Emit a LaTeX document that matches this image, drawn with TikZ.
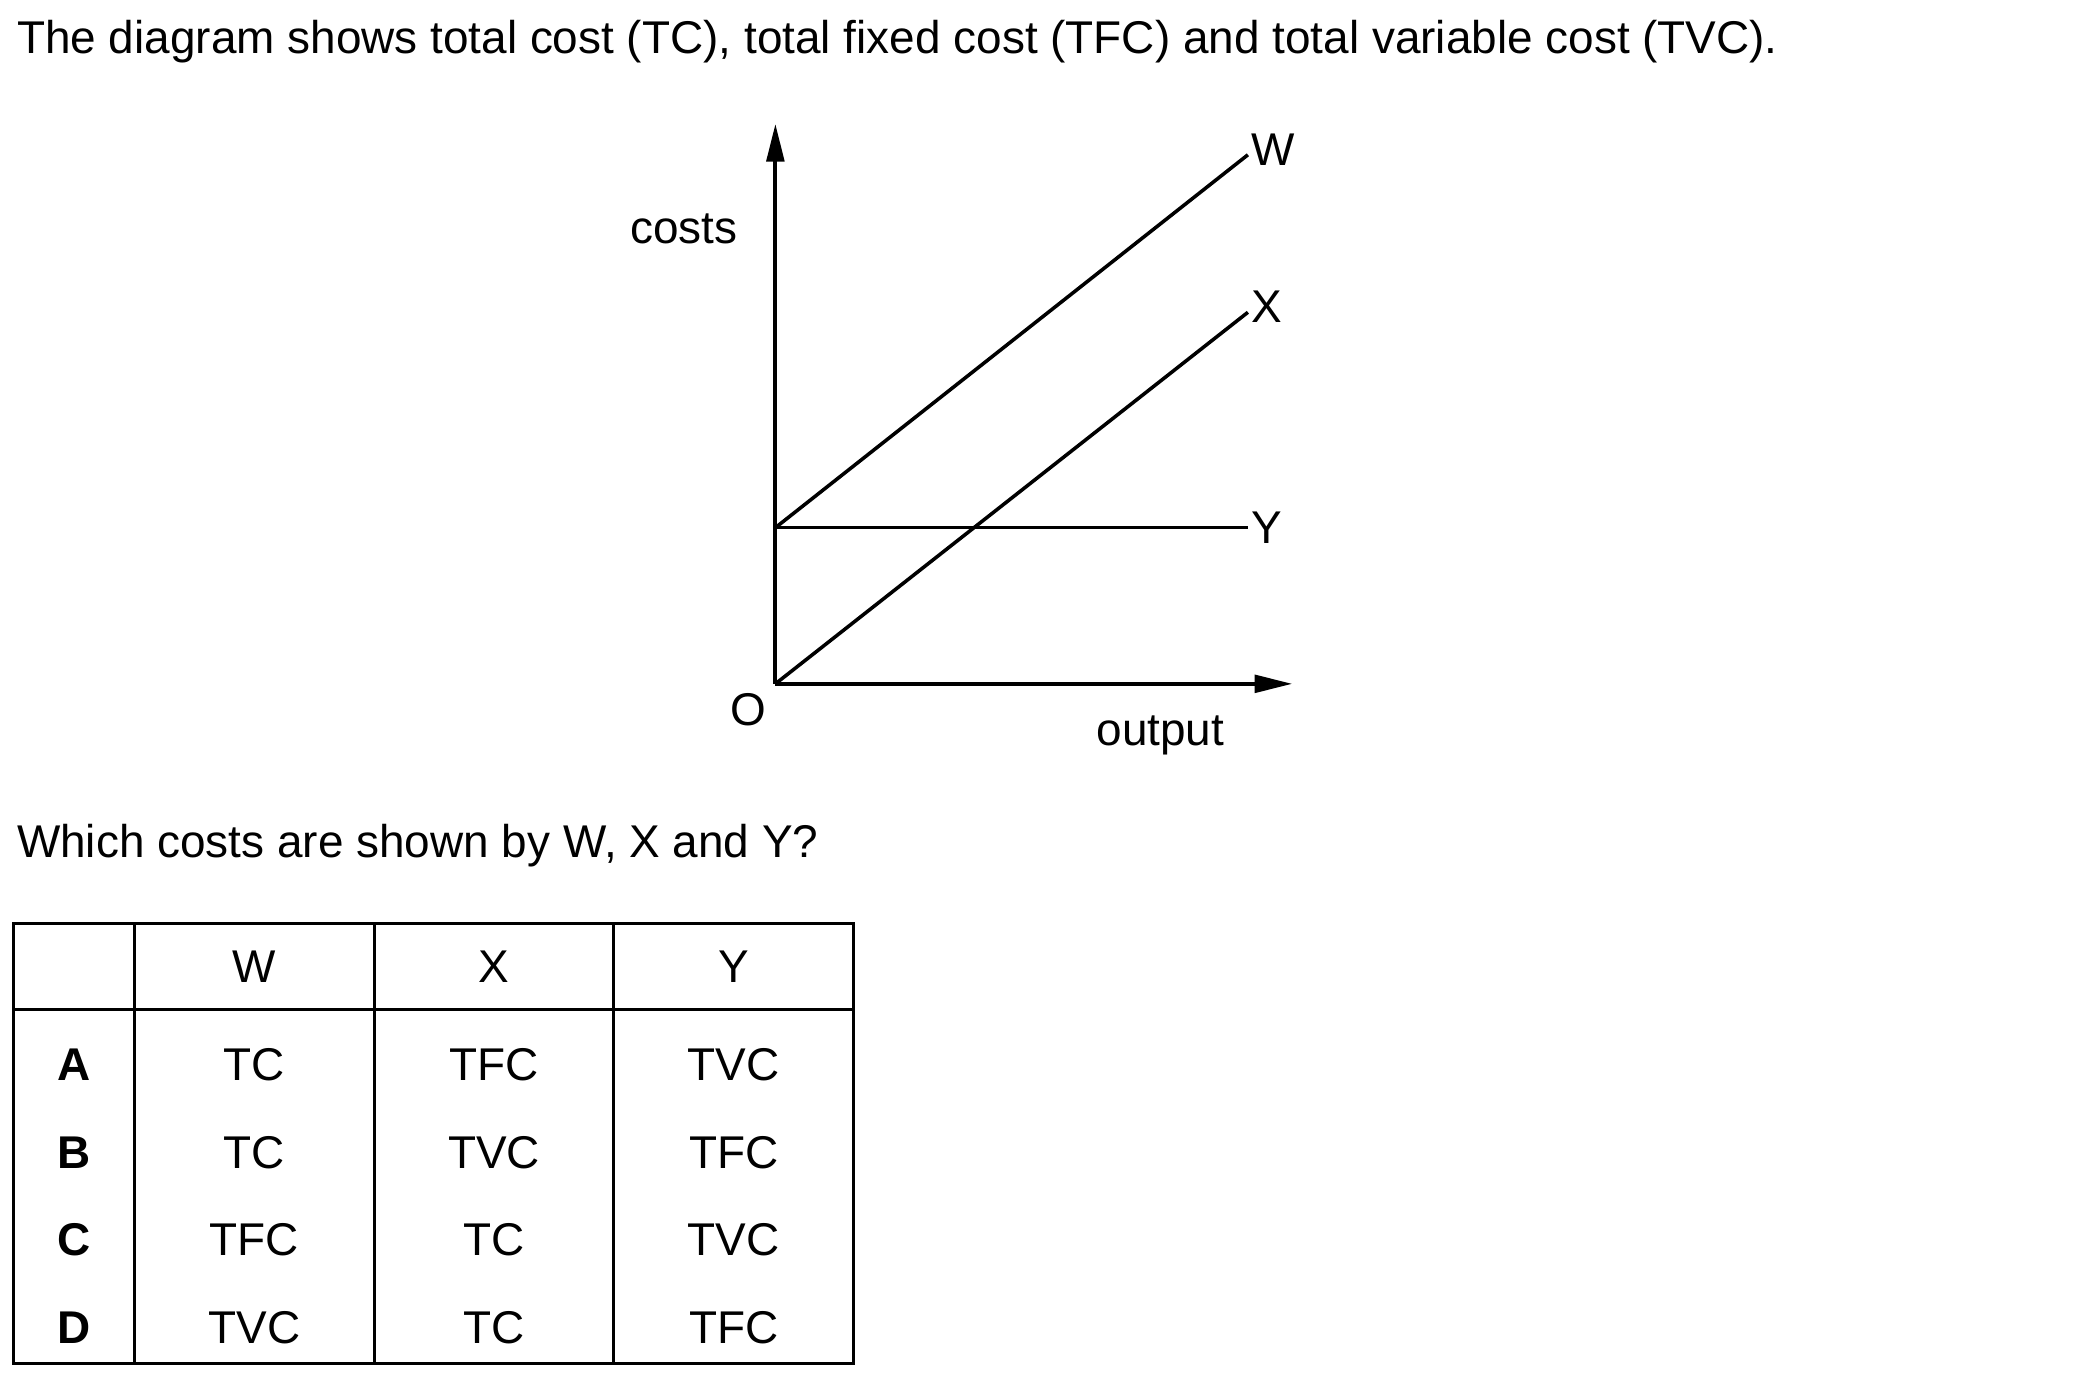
\documentclass[tikz,border=0pt]{standalone}
\usepackage{fontspec}
\setmainfont{Liberation Sans}
\usetikzlibrary{arrows.meta}

\begin{document}
\begin{tikzpicture}[x=0.01cm, y=-0.01cm, font=\fontsize{9.7}{11.5}\selectfont,
    axis/.style={line width=0.85pt, -{Triangle[length=0.28cm, width=0.13cm]}},
    curve/.style={line width=0.75pt},
    label/.style={inner sep=0}]
\useasboundingbox (0,0) rectangle (1560,1022);
% Question text
    \node[label, anchor=west] (title) at (12,31) {The diagram shows total cost (TC), total fixed cost (TFC) and total variable cost (TVC).};
    \node[label, anchor=west] (question) at (12,628) {Which costs are shown by W, X and Y?};
% Axes
    \coordinate (O) at (576,508);
    \coordinate (costtop) at (576,92);
    \coordinate (outputend) at (960,508);
    \coordinate (F) at (576,392);
    \draw[axis] (O) -- (costtop);
    \draw[axis] (O) -- (outputend);
    \node[label] (costs) at (508,170) {costs};
    \node[label] (origin) at (556,527) {O};
    \node[label] (output) at (862,546) {output};
% Cost lines
    \coordinate (Wend) at (927,115);
    \coordinate (Xend) at (927,232);
    \coordinate (Yend) at (927,392);
    \draw[curve] (F) -- (Wend);
    \draw[curve] (O) -- (Xend);
    \draw[curve] (F) -- (Yend);
    \node[label] (wlab) at (946,111) {W};
    \node[label] (xlab) at (941,228) {X};
    \node[label] (ylab) at (941,392) {Y};
% Table frame
    \draw[line width=0.6pt] (10,686) rectangle (634,1013);
    \draw[line width=0.6pt] (10,750) -- (634,750);
    \draw[line width=0.6pt] (100,686) -- (100,1013);
    \draw[line width=0.6pt] (278,686) -- (278,1013);
    \draw[line width=0.6pt] (456,686) -- (456,1013);
% Table header
    \node (hw) at (189,718) {W};
    \node (hx) at (367,718) {X};
    \node (hy) at (545,718) {Y};
% Table rows
    \node[font=\fontsize{9.7}{11.5}\selectfont\bfseries] (ra) at (55,791) {A};
    \node (aw) at (189,791) {TC};
    \node (ax) at (367,791) {TFC};
    \node (ay) at (545,791) {TVC};
    \node[font=\fontsize{9.7}{11.5}\selectfont\bfseries] (rb) at (55,856) {B};
    \node (bw) at (189,856) {TC};
    \node (bx) at (367,856) {TVC};
    \node (by) at (545,856) {TFC};
    \node[font=\fontsize{9.7}{11.5}\selectfont\bfseries] (rc) at (55,921) {C};
    \node (cw) at (189,921) {TFC};
    \node (cx) at (367,921) {TC};
    \node (cy) at (545,921) {TVC};
    \node[font=\fontsize{9.7}{11.5}\selectfont\bfseries] (rd) at (55,986) {D};
    \node (dw) at (189,986) {TVC};
    \node (dx) at (367,986) {TC};
    \node (dy) at (545,986) {TFC};
\end{tikzpicture}
\end{document}
